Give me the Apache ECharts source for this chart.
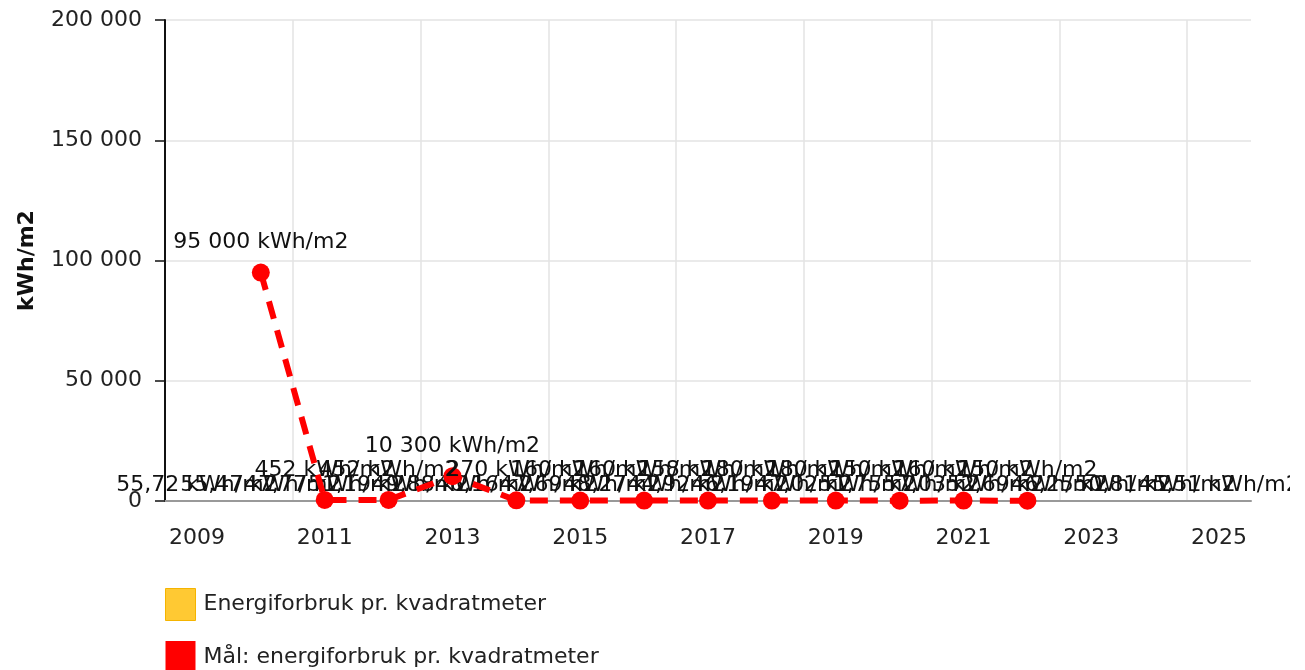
<!DOCTYPE html>
<html lang="no">
<head>
  <meta charset="UTF-8">
  <title>Energiforbruk pr. kvadratmeter</title>
  <script type="text/javascript" src="https://fastly.jsdelivr.net/npm/echarts@6.0.0/dist/echarts.min.js"></script>
  <style>
    html, body {
      margin: 0;
      padding: 0;
      background: #fff;
      overflow: hidden;
    }
    #container {
      width: 1290px;
      height: 670px;
    }
  </style>
</head>
<body>
  <div id="container"></div>

  <script type="text/javascript">
    var years = ['2009', '2010', '2011', '2012', '2013', '2014', '2015', '2016', '2017',
                 '2018', '2019', '2020', '2021', '2022', '2023', '2024', '2025'];

    // Energiforbruk pr. kvadratmeter (kWh/m2)
    var energi = [55.72, 55.47, 47.77, 51.19, 49.88, 46.16, 47.69, 48.27, 44.92,
                  46.19, 47.02, 51.75, 57.03, 52.69, 46.25, 50.81, 45.51];

    // Mål: energiforbruk pr. kvadratmeter (kWh/m2)
    var maal = [null, 95000, 452, 452, 10300, 270, 160, 160, 158,
                180, 180, 150, 160, 150, null, null, null];

    var FONT = 'DejaVu Sans';
    var YELLOW = '#ffc933';
    var RED = '#ff0000';

    function spaced(v) {
      return String(v).replace(/\B(?=(\d{3})+(?!\d))/g, ' ');
    }
    function decimal(v) {
      return v.toFixed(2).replace('.', ',');
    }

    var myChart = echarts.init(document.getElementById('container'), null, { renderer: 'canvas' });
    myChart.setOption({
      animation: false,
      textStyle: { fontFamily: FONT },
      grid: { left: 165, right: 39, top: 20, bottom: 169 },
      legend: {
        orient: 'vertical',
        left: 160,
        top: 583,
        height: 100,
        padding: 5,
        itemWidth: 30,
        itemHeight: 32,
        itemGap: 20,
        icon: 'rect',
        textStyle: { fontSize: 22, color: '#222', fontFamily: FONT, padding: [0, 0, 0, 3] },
        data: [
          { name: 'Energiforbruk pr. kvadratmeter',
            itemStyle: { color: YELLOW, borderColor: '#f5b400', borderWidth: 1, opacity: 1 } },
          { name: 'Mål: energiforbruk pr. kvadratmeter',
            itemStyle: { color: RED } }
        ]
      },
      xAxis: {
        type: 'category',
        data: years,
        boundaryGap: true,
        axisLine: { lineStyle: { color: '#999', width: 2 } },
        axisTick: { alignWithLabel: true, interval: 1, length: 10, lineStyle: { color: '#999', width: 1.5 } },
        axisLabel: { interval: 1, margin: 26, fontSize: 22, color: '#222', fontFamily: FONT },
        splitLine: { show: true, interval: 1, showMaxLine: false, lineStyle: { color: '#e3e3e3', width: 1.5 } }
      },
      yAxis: {
        type: 'value',
        min: 0,
        max: 200000,
        interval: 50000,
        name: 'kWh/m2',
        nameLocation: 'middle',
        nameRotate: 90,
        nameGap: 127,
        nameTextStyle: { fontSize: 22, fontWeight: 'bold', color: '#111', fontFamily: FONT },
        axisLine: { show: true, lineStyle: { color: '#111', width: 2 } },
        axisTick: { show: true, length: 10, lineStyle: { color: '#111', width: 1.5 } },
        axisLabel: {
          margin: 23,
          fontSize: 22,
          color: '#222',
          fontFamily: FONT,
          formatter: function (v) { return spaced(v); }
        },
        splitLine: { lineStyle: { color: '#e3e3e3', width: 1.5 } }
      },
      series: [
        {
          name: 'Energiforbruk pr. kvadratmeter',
          type: 'bar',
          z: 1,
          data: energi,
          barWidth: '60%',
          itemStyle: { color: YELLOW, opacity: 0 },
          label: {
            show: true,
            position: 'top',
            distance: 5,
            fontSize: 22,
            color: '#111',
            opacity: 1,
            fontFamily: FONT,
            textBorderWidth: 0,
            formatter: function (p) { return decimal(p.value) + ' kWh/m2'; }
          }
        },
        {
          name: 'Mål: energiforbruk pr. kvadratmeter',
          type: 'line',
          z: 3,
          data: maal,
          symbol: 'circle',
          symbolSize: 18,
          showAllSymbol: true,
          itemStyle: { color: RED },
          lineStyle: { color: RED, width: 6, type: [18, 12] },
          label: {
            show: true,
            position: 'top',
            distance: 10,
            fontSize: 22,
            color: '#111',
            fontFamily: FONT,
            textBorderWidth: 0,
            formatter: function (p) { return spaced(p.value) + ' kWh/m2'; }
          }
        }
      ]
    });
  </script>
</body>
</html>
